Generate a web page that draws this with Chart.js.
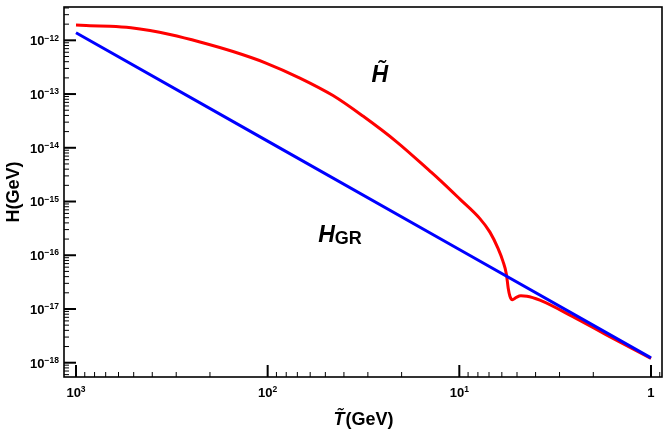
<!DOCTYPE html>
<html><head><meta charset="utf-8">
<script src="https://cdn.jsdelivr.net/npm/chart.js@4.4.0/dist/chart.umd.min.js"></script>
<style>html,body{margin:0;padding:0;background:#fff;}#wrap{width:664px;height:430px;}</style>
</head><body><div id="wrap"><canvas id="c" width="664" height="430"></canvas></div>
<script>
// ---- data ----
const redT = [1000, 845.3, 664.6, 516.7, 411.2, 323.4, 225.5, 151.7, 102.1, 67.9, 45.6, 31.84, 21.16, 14.23, 12.62, 9.93, 7.81, 6.924, 6.29, 5.924, 5.68, 5.558, 5.445, 5.284, 5.068, 4.771, 4.439, 3.799, 2.556, 1.699, 1.0];
const redH = [1.928e-12, 1.862e-12, 1.823e-12, 1.709e-12, 1.522e-12, 1.282e-12, 9.30e-13, 6.18e-13, 3.78e-13, 1.986e-13, 9.38e-14, 3.89e-14, 1.277e-14, 3.68e-15, 2.503e-15, 1.108e-15, 4.80e-16, 2.692e-16, 1.356e-16, 7.77e-17, 4.45e-17, 2.44e-17, 1.731e-17, 1.49e-17, 1.623e-17, 1.754e-17, 1.731e-17, 1.459e-17, 7.19e-18, 3.25e-18, 1.197e-18];
const blueT = [1000, 100, 10, 1];
const blueH = [1.38e-12, 1.33e-14, 1.28e-16, 1.23e-18];

const xTickValues = [1000, 100, 10, 1];
const xTickBase = ['10', '10', '10', '1'];
const xTickExp = ['3', '2', '1', ''];
const yTickValues = [1e-12, 1e-13, 1e-14, 1e-15, 1e-16, 1e-17, 1e-18];
const yTickExp = ['\u221212', '\u221213', '\u221214', '\u221215', '\u221216', '\u221217', '\u221218'];
const xRange = [0.876, 1155];
const yRange = [5.42e-19, 4.17e-12];

const xTitleItalic = 'T\u0303';
const xTitleRest = '(GeV)';
const yTitle = 'H(GeV)';
const labelHtilde = {text: 'H\u0303', T: 25.96, H: 1.673e-13};
const labelHgr = {main: 'H', sub: 'GR', T: 41.96, H: 1.754e-16};

const toPts = (xs, ys) => xs.map((v, i) => ({x: v, y: ys[i]}));

const FONT = '"Liberation Sans", Arial, Helvetica, sans-serif';

const decor = {
  id: 'decor',
  afterDraw(chart) {
    const {ctx, chartArea: a, scales: {x, y}} = chart;
    ctx.save();
    ctx.strokeStyle = '#000';
    ctx.fillStyle = '#000';
    // y ticks
    for (let k = -19; k <= -11; k++) {
      for (let m = 1; m <= 9; m++) {
        const v = m * Math.pow(10, k);
        if (v < y.min || v > y.max) continue;
        const py = y.getPixelForValue(v);
        const len = m === 1 ? 12 : 5;
        ctx.lineWidth = m === 1 ? 2 : 1;
        ctx.beginPath(); ctx.moveTo(a.left, py); ctx.lineTo(a.left + len, py); ctx.stroke();
      }
    }
    // x ticks
    for (let k = -1; k <= 3; k++) {
      for (let m = 1; m <= 9; m++) {
        const v = m * Math.pow(10, k);
        if (v < x.min || v > x.max) continue;
        const px = x.getPixelForValue(v);
        const len = m === 1 ? 12 : 5;
        ctx.lineWidth = m === 1 ? 2 : 1;
        ctx.beginPath(); ctx.moveTo(px, a.bottom); ctx.lineTo(px, a.bottom - len); ctx.stroke();
      }
    }
    // frame
    ctx.lineWidth = 1.6;
    ctx.strokeRect(a.left, a.top, a.right - a.left, a.bottom - a.top);

    // y tick labels
    const mainF = 'bold 13px ' + FONT, supF = 'bold 8.5px ' + FONT;
    ctx.textAlign = 'left'; ctx.textBaseline = 'alphabetic';
    yTickValues.forEach((v, i) => {
      const py = y.getPixelForValue(v);
      ctx.font = supF; const wS = ctx.measureText(yTickExp[i]).width;
      ctx.font = mainF; const wM = ctx.measureText('10').width;
      const right = a.left - 5;
      ctx.fillText('10', right - wS - wM, py + 4.8);
      ctx.font = supF; ctx.fillText(yTickExp[i], right - wS, py + 0.2);
    });
    // x tick labels
    xTickValues.forEach((v, i) => {
      const px = x.getPixelForValue(v);
      ctx.font = supF; const wS = xTickExp[i] ? ctx.measureText(xTickExp[i]).width : 0;
      ctx.font = mainF; const wM = ctx.measureText(xTickBase[i]).width;
      const start = px - (wM + wS) / 2;
      ctx.fillText(xTickBase[i], start, 397);
      if (xTickExp[i]) { ctx.font = supF; ctx.fillText(xTickExp[i], start + wM, 392.3); }
    });

    // axis titles
    ctx.font = 'bold 18px ' + FONT;
    ctx.save();
    ctx.translate(18.5, (a.top + a.bottom) / 2);
    ctx.rotate(-Math.PI / 2);
    ctx.textAlign = 'center';
    ctx.fillText(yTitle, 0, 0);
    ctx.restore();

    const itF = 'italic bold 18px ' + FONT, rF = 'bold 18px ' + FONT;
    ctx.font = itF; const w1 = ctx.measureText(xTitleItalic).width;
    ctx.font = rF; const w2 = ctx.measureText(xTitleRest).width;
    const sx = (a.left + a.right) / 2 - (w1 + w2) / 2;
    ctx.font = itF; ctx.fillText(xTitleItalic, sx, 425);
    ctx.font = rF; ctx.fillText(xTitleRest, sx + w1 + 1, 425);

    // curve labels
    ctx.font = 'italic bold 23px ' + FONT;
    ctx.textAlign = 'center';
    ctx.fillText(labelHtilde.text, x.getPixelForValue(labelHtilde.T), y.getPixelForValue(labelHtilde.H));
    ctx.textAlign = 'left';
    ctx.font = 'italic bold 23px ' + FONT; const wh = ctx.measureText(labelHgr.main).width;
    ctx.font = 'bold 18px ' + FONT; const wg = ctx.measureText(labelHgr.sub).width;
    const cx = x.getPixelForValue(labelHgr.T), by = y.getPixelForValue(labelHgr.H);
    const hx = cx - (wh + wg) / 2;
    ctx.font = 'italic bold 23px ' + FONT; ctx.fillText(labelHgr.main, hx, by);
    ctx.font = 'bold 18px ' + FONT; ctx.fillText(labelHgr.sub, hx + wh, by + 1.5);
    ctx.restore();
  }
};

new Chart(document.getElementById('c'), {
  type: 'scatter',
  data: {
    datasets: [
      {label: 'H_GR', data: toPts(blueT, blueH), showLine: true, borderColor: '#0000ff', backgroundColor: '#0000ff', borderWidth: 3, pointRadius: 0, tension: 0},
      {label: 'H tilde', data: toPts(redT, redH), showLine: true, borderColor: '#ff0000', backgroundColor: '#ff0000', borderWidth: 3, pointRadius: 0, cubicInterpolationMode: 'monotone'}
    ]
  },
  options: {
    responsive: false,
    devicePixelRatio: 1,
    animation: false,
    events: [],
    layout: {padding: {left: 0, top: 7, right: 2, bottom: 0}},
    plugins: {legend: {display: false}, tooltip: {enabled: false}},
    scales: {
      x: {
        type: 'logarithmic', reverse: true, min: xRange[0], max: xRange[1], bounds: 'data',
        grid: {display: false, drawTicks: false}, border: {display: false},
        ticks: {display: false},
        afterFit: s => { s.height = 53; }
      },
      y: {
        type: 'logarithmic', min: yRange[0], max: yRange[1], bounds: 'data',
        grid: {display: false, drawTicks: false}, border: {display: false},
        ticks: {display: false},
        afterFit: s => { s.width = 64; }
      }
    }
  },
  plugins: [decor]
});
</script>
</body></html>
